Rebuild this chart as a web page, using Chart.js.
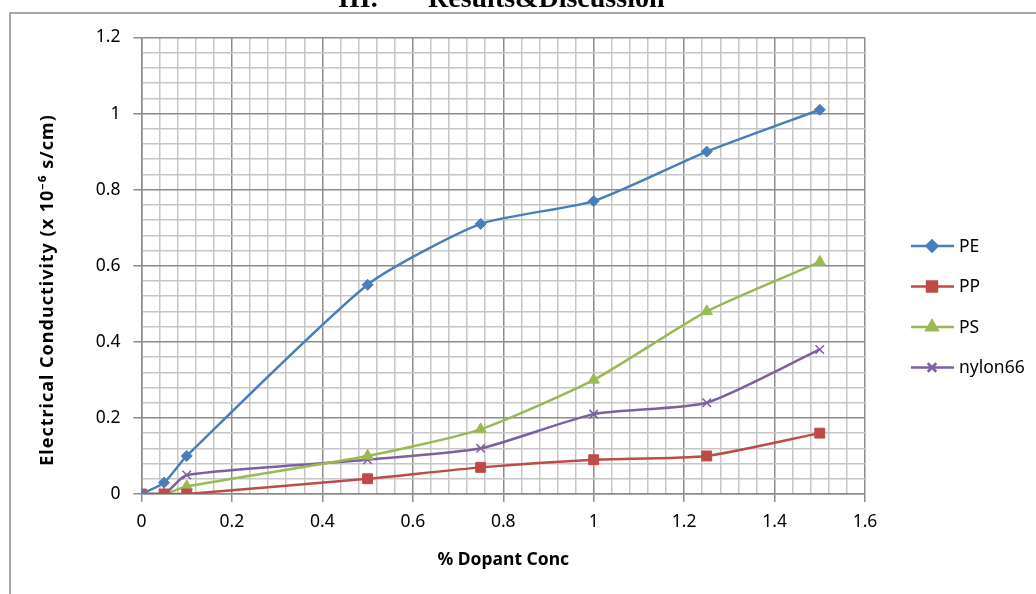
<!DOCTYPE html>
<html>
<head>
<meta charset="utf-8">
<script src="https://cdn.jsdelivr.net/npm/chart.js@4.4.1/dist/chart.umd.min.js"></script>
<style>
    html, body { margin: 0; padding: 0; background: #fff; }
    #wrap { width: 1036px; height: 594px; position: relative; }
</style>
</head>
<body>
<div id="wrap"><canvas id="myChart"></canvas></div>
<script>
// values
const dopant = [0, 0.05, 0.1, 0.5, 0.75, 1, 1.25, 1.5]
const pe = [0, 0.03, 0.1, 0.55, 0.71, 0.77, 0.9, 1.01]
const pp = [0, 0, 0, 0.04, 0.07, 0.09, 0.1, 0.16]
const ps = [0, 0, 0.02, 0.1, 0.17, 0.3, 0.48, 0.61]
const nylon66 = [0, 0, 0.05, 0.09, 0.12, 0.21, 0.24, 0.38]

const xTicks = [0, 0.2, 0.4, 0.6, 0.8, 1, 1.2, 1.4, 1.6]
const xTickLabels = ['0', '0.2', '0.4', '0.6', '0.8', '1', '1.2', '1.4', '1.6']
const yTicks = [0, 0.2, 0.4, 0.6, 0.8, 1, 1.2]
const yTickLabels = ['0', '0.2', '0.4', '0.6', '0.8', '1', '1.2']

const MAJOR = '#8c8c8c'
const MINOR = '#c6c6c6'

function toPoints(ys) {
    return dopant.map((x, i) => ({ x: x, y: ys[i] }))
}

function majorIndex(list, v) {
    return list.findIndex((t) => Math.abs(t - v) < 1e-6)
}

function gridColor(list) {
    return (ctx) => majorIndex(list, ctx.tick.value) >= 0 ? MAJOR : MINOR
}

function tickColor(list) {
    return (ctx) => majorIndex(list, ctx.tick.value) >= 0 ? MAJOR : 'rgba(0,0,0,0)'
}

const tickFont = { family: 'Noto Sans', size: 17.5 }

// frame, page heading, y title and legend
const extras = {
    id: 'extras',
    beforeDraw(chart) {
        const ctx = chart.ctx
        ctx.save()
        ctx.fillStyle = '#fff'
        ctx.fillRect(0, 0, chart.width, chart.height)
        ctx.strokeStyle = '#8a8a8a'
        ctx.lineWidth = 1.5
        ctx.beginPath()
        ctx.moveTo(10, chart.height)
        ctx.lineTo(10, 13)
        ctx.lineTo(chart.width, 13)
        ctx.stroke()
        ctx.fillStyle = '#000'
        ctx.font = 'bold 28px "Liberation Serif"'
        ctx.textBaseline = 'alphabetic'
        ctx.fillText('III.', 338, 7)
        ctx.fillText('Results&Discussion', 428, 7)
        ctx.restore()
    },
    afterDraw(chart) {
        const ctx = chart.ctx
        ctx.save()
        ctx.translate(48, 290)
        ctx.rotate(-Math.PI / 2)
        ctx.font = 'bold 18px "Noto Sans"'
        ctx.fillStyle = '#000'
        ctx.textAlign = 'center'
        ctx.textBaseline = 'middle'
        if ('letterSpacing' in ctx) ctx.letterSpacing = '1px'
        ctx.fillText('Electrical Conductivity (x 10\u207B\u2076 s/cm)', 0, 0)
        ctx.restore()

        ctx.save()
        chart.data.datasets.forEach((ds, i) => {
            const y = 246 + i * 40.5
            ctx.strokeStyle = ds.borderColor
            ctx.lineWidth = 2.5
            ctx.beginPath()
            ctx.moveTo(911, y)
            ctx.lineTo(954, y)
            ctx.stroke()
            ctx.fillStyle = ds.backgroundColor
            Chart.helpers.drawPoint(ctx, {
                pointStyle: ds.pointStyle,
                radius: ds.pointRadius,
                borderWidth: 1.5,
                rotation: 0
            }, 932, y)
            ctx.fillStyle = '#000'
            ctx.font = '17.5px "Noto Sans"'
            ctx.textBaseline = 'middle'
            ctx.fillText(ds.label, 959, y + 1)
        })
        ctx.restore()
    }
}

function series(label, ys, color, style, r) {
    return {
        label: label,
        data: toPoints(ys),
        borderColor: color,
        backgroundColor: color,
        borderWidth: 2.5,
        pointStyle: style,
        pointRadius: r,
        pointBorderWidth: style === 'crossRot' ? 1.5 : 1,
        tension: 0.2
    }
}

const config = {
    type: 'line',
    data: {
        datasets: [
            series('PE', pe, '#4a7ebb', 'rectRot', 5.5),
            series('PP', pp, '#be4b48', 'rect', 7),
            series('PS', ps, '#98b954', 'triangle', 6.5),
            series('nylon66', nylon66, '#7d60a0', 'crossRot', 6)
        ]
    },
    options: {
        responsive: true,
        maintainAspectRatio: false,
        animation: false,
        layout: { padding: { left: 0, top: 37.5, right: 171, bottom: 0 } },
        plugins: {
            legend: { display: false },
            tooltip: { enabled: false }
        },
        scales: {
            x: {
                type: 'linear',
                min: 0,
                max: 1.6,
                afterFit(scale) { scale.height = 100 },
                grid: {
                    color: gridColor(xTicks),
                    tickColor: tickColor(xTicks),
                    lineWidth: 1.5,
                    tickLength: 8
                },
                border: { color: MAJOR, width: 1.5 },
                ticks: {
                    stepSize: 0.04,
                    autoSkip: false,
                    maxRotation: 0,
                    padding: 10,
                    color: '#000',
                    font: tickFont,
                    callback: (v) => {
                        const k = majorIndex(xTicks, v)
                        return k >= 0 ? xTickLabels[k] : ''
                    }
                },
                title: {
                    display: true,
                    text: '% Dopant Conc',
                    color: '#000',
                    font: { family: 'Noto Sans', size: 17.5, weight: 'bold' },
                    padding: { top: 0, bottom: 23 }
                }
            },
            y: {
                min: 0,
                max: 1.2,
                afterFit(scale) { scale.width = 141.5 },
                grid: {
                    color: gridColor(yTicks),
                    tickColor: tickColor(yTicks),
                    lineWidth: 1.5,
                    tickLength: 8
                },
                border: { color: MAJOR, width: 1.5 },
                ticks: {
                    stepSize: 0.04,
                    autoSkip: false,
                    padding: 13,
                    color: '#000',
                    font: tickFont,
                    callback: (v) => {
                        const k = majorIndex(yTicks, v)
                        return k >= 0 ? yTickLabels[k] : ''
                    }
                }
            }
        }
    },
    plugins: [extras]
}

const myChart = new Chart(document.getElementById('myChart'), config)
</script>
</body>
</html>
